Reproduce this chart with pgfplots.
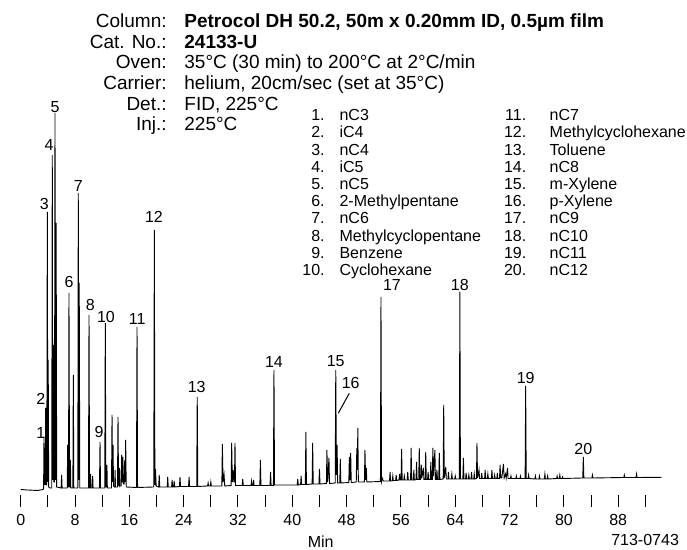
\documentclass[border=0pt]{standalone}
\usepackage{pgfplots}
\pgfplotsset{compat=1.18}
\usepackage{pgfplotstable}
\usepackage{fontspec}
\setmainfont{Liberation Sans}

\pgfplotstableread{
t v
0 0.5
1 0
2.5 -0.5
3.3 0.5
3.37 2
3.43 53
3.49 5
3.55 30
3.61 5
3.68 82
3.76 5
3.84 5
3.92 278
3.99 8
4.05 130
4.12 3
4.3 2
4.57 2
4.65 335
4.72 10
4.80 145
4.88 8
4.97 8
5.05 377
5.13 10
5.22 267
5.30 3
5.95 2
6.03 15
6.1 2
6.85 2
6.92 45
6.99 3
7.04 3
7.11 197
7.19 3
7.26 3
7.32 30
7.38 2
7.68 2
7.75 115
7.82 2
8.41 2
8.48 297
8.55 10
8.62 207
8.70 2
9.98 2
10.06 175
10.14 2
10.24 2
10.3 16
10.36 2
10.55 2
10.6 14
10.66 2
11.60 2
11.68 48
11.76 2
12.38 2
12.46 167
12.54 3
12.64 3
12.7 25
12.76 2
13.37 2
13.45 75
13.53 8
13.6 45
13.67 4
13.85 3
13.9 20
13.96 3
14.25 3
14.33 73
14.41 5
14.50 4
14.55 22
14.62 4
14.80 4
14.87 35
14.94 8
14.99 8
15.05 33
15.12 6
15.25 6
15.32 30
15.39 8
15.46 50
15.54 3
17.05 2.5
17.13 163
17.21 2.5
19.60 3
19.68 260
19.76 5
19.85 21
19.95 4
20.32 3
20.4 15
20.48 3
21.57 3
21.65 13
21.73 3
22.22 3
22.3 10
22.38 3
22.52 3
22.6 9
22.68 3
23.38 3.5
23.46 13
23.54 3.5
24.72 3.5
24.8 13
24.88 3.5
25.92 3.5
26.0 93
26.08 3.5
27.52 4
27.6 7
27.68 4
27.92 4
28.0 8
28.08 4
29.62 4
29.7 46
29.8 8
29.95 15
30.05 4
30.99 4.5
31.07 47
31.17 8
31.3 20
31.4 8
31.48 8
31.56 47
31.64 4.5
32.62 4.5
32.7 11
32.78 4.5
33.92 4.5
34.0 9
34.08 4.5
34.22 4.5
34.3 10
34.38 4.5
35.22 4.5
35.3 30
35.38 4.5
36.72 4.5
36.8 18
36.88 4.5
37.22 4.5
37.3 120
37.38 5
40.72 5
40.8 11
40.88 5
41.22 5.5
41.3 14
41.38 5.5
41.92 5.5
42.0 58
42.08 5.5
42.92 6
43.0 47
43.08 6
43.92 6
44.0 21
44.08 6
45.02 6.5
45.1 40
45.2 8
45.4 32
45.48 6.5
46.32 7
46.4 120
46.5 15
46.6 45
46.68 7
46.99 7
47.07 31
47.15 7
48.32 7.5
48.4 33
48.5 10
48.6 37
48.68 7.5
49.42 8
49.5 42
49.57 20
49.65 62
49.73 8
50.62 8
50.7 40
50.8 10
50.9 22
50.98 8
52.98 8.5
53.06 193
53.14 8.5
53.25 12
53.4 9
54.32 9
54.4 18
54.48 9
54.72 9
54.8 14
54.88 9.5
55.22 9.5
55.3 15
55.38 9.5
55.72 10
55.8 16
55.88 10
56.02 10
56.1 41
56.18 10
56.42 10
56.5 14
56.58 10
56.92 10
57.0 18
57.08 10
57.42 10
57.5 42
57.58 10
57.82 10
57.9 20
57.98 10
58.22 10.5
58.3 28
58.38 10.5
58.62 10.5
58.7 42
58.78 10.5
58.92 10.5
59.0 25
59.08 12
59.3 22
59.38 10.5
59.57 10.5
59.65 38
59.73 10.5
59.92 10.5
60.0 18
60.08 10.5
60.32 10.5
60.4 28
60.48 10.5
60.62 10.5
60.7 42
60.8 14
61.0 40
61.08 10.5
61.22 10.5
61.3 20
61.38 10.5
61.57 10.5
61.65 37
61.73 10.5
62.22 11
62.3 85
62.38 12
62.6 23
62.68 11
62.92 11
63.0 18
63.08 11
63.42 11
63.5 16
63.58 11
63.92 11
64.0 14
64.08 11
64.6 11
64.68 198
64.76 11
65.12 11
65.2 32
65.28 11
65.52 11
65.6 17
65.68 11
65.92 11
66.0 15
66.08 11
66.32 11
66.4 18
66.48 11
66.72 11
66.8 16
66.88 11
67.12 11.5
67.2 47
67.28 12
67.5 20
67.58 11.5
67.82 11.5
67.9 17
67.98 11.5
68.32 11.5
68.4 20
68.48 11.5
68.72 11.5
68.8 16
68.88 11.5
69.32 11.5
69.4 20
69.48 11.5
69.72 11.5
69.8 15
69.88 11.5
70.12 11.5
70.2 17
70.28 11.5
70.52 11.5
70.6 25
70.7 12
70.85 12
71.1 26
71.2 12
71.4 16
71.5 12
71.7 22
71.78 11.5
72.12 11.5
72.2 14
72.28 11.5
72.92 11.5
73.0 14
73.08 11.5
73.52 11.5
73.6 14
73.68 11.5
74.29 11.5
74.37 104
74.45 11.5
74.72 11.5
74.8 15
74.88 11.5
75.72 11
75.8 14
75.88 11
76.32 11
76.4 14
76.48 11
77.12 11
77.2 16
77.28 11
77.52 11
77.6 14
77.68 11
78.92 11.5
79.0 14
79.08 11.5
79.32 11.5
79.4 15
79.48 11.5
79.72 11.5
79.8 13
79.88 11.5
82.78 12
82.86 33
82.94 12
84.12 12
84.2 15
84.28 12
88.82 12.5
88.9 15
88.98 12.5
90.62 12.5
90.7 16
90.78 12.5
94.4 12.7
}\chrom

\begin{document}
\begin{tikzpicture}
\begin{axis}[
  x=3.395pt, y=0.5pt,
  xmin=-3.05, xmax=98.13, ymin=-17, ymax=490,
  axis line style={draw=none},
  ytick=\empty,
  xtick={0,4,...,92},
  xticklabels={0,,8,,16,,24,,32,,40,,48,,56,,64,,72,,80,,88,},
  xtick pos=left,
  xtick align=inside,
  major tick length=6pt,
  major tick style={black, line width=0.5pt},
  xticklabel style={font=\fontsize{8}{9.6}\selectfont},
  /pgf/number format/assume math mode=true,
  clip=false,
  ]
\path (axis cs:-3.05,-60) rectangle (axis cs:98.13,490);
\addplot[black, line width=0.45pt] table[x=t,y=v]{\chrom};

% header
\begin{scope}[every node/.style={inner sep=0pt, font=\fontsize{9.5}{11}\selectfont}]
\node[anchor=base east] at (axis cs:21.55,462.5) {Column:};
\node[anchor=base east] at (axis cs:21.55,441.8) {Cat. No.:};
\node[anchor=base east] at (axis cs:21.55,421.1) {Oven:};
\node[anchor=base east] at (axis cs:21.55,400.4) {Carrier:};
\node[anchor=base east] at (axis cs:21.55,379.7) {Det.:};
\node[anchor=base east] at (axis cs:21.55,359.0) {Inj.:};
\node[anchor=base west] at (axis cs:24.05,462.5) {\bfseries Petrocol DH 50.2, 50m x 0.20mm ID, 0.5µm film};
\node[anchor=base west] at (axis cs:24.05,441.8) {\bfseries 24133-U};
\node[anchor=base west] at (axis cs:24.05,421.1) {35°C (30 min) to 200°C at 2°C/min};
\node[anchor=base west] at (axis cs:24.05,400.4) {helium, 20cm/sec (set at 35°C)};
\node[anchor=base west] at (axis cs:24.05,379.7) {FID, 225°C};
\node[anchor=base west] at (axis cs:24.05,359.0) {225°C};
\end{scope}

% legend
\begin{scope}[every node/.style={inner sep=0pt, font=\fontsize{8}{9.6}\selectfont}]
\node[anchor=base east] at (axis cs:44.82,369.3) {1.};
\node[anchor=base east] at (axis cs:44.82,352.1) {2.};
\node[anchor=base east] at (axis cs:44.82,334.9) {3.};
\node[anchor=base east] at (axis cs:44.82,317.7) {4.};
\node[anchor=base east] at (axis cs:44.82,300.5) {5.};
\node[anchor=base east] at (axis cs:44.82,283.3) {6.};
\node[anchor=base east] at (axis cs:44.82,266.1) {7.};
\node[anchor=base east] at (axis cs:44.82,248.9) {8.};
\node[anchor=base east] at (axis cs:44.82,231.7) {9.};
\node[anchor=base east] at (axis cs:44.82,214.5) {10.};
\node[anchor=base west] at (axis cs:46.9,369.3) {nC3};
\node[anchor=base west] at (axis cs:46.9,352.1) {iC4};
\node[anchor=base west] at (axis cs:46.9,334.9) {nC4};
\node[anchor=base west] at (axis cs:46.9,317.7) {iC5};
\node[anchor=base west] at (axis cs:46.9,300.5) {nC5};
\node[anchor=base west] at (axis cs:46.9,283.3) {2-Methylpentane};
\node[anchor=base west] at (axis cs:46.9,266.1) {nC6};
\node[anchor=base west] at (axis cs:46.9,248.9) {Methylcyclopentane};
\node[anchor=base west] at (axis cs:46.9,231.7) {Benzene};
\node[anchor=base west] at (axis cs:46.9,214.5) {Cyclohexane};
\node[anchor=base east] at (axis cs:74.52,369.3) {11.};
\node[anchor=base east] at (axis cs:74.52,352.1) {12.};
\node[anchor=base east] at (axis cs:74.52,334.9) {13.};
\node[anchor=base east] at (axis cs:74.52,317.7) {14.};
\node[anchor=base east] at (axis cs:74.52,300.5) {15.};
\node[anchor=base east] at (axis cs:74.52,283.3) {16.};
\node[anchor=base east] at (axis cs:74.52,266.1) {17.};
\node[anchor=base east] at (axis cs:74.52,248.9) {18.};
\node[anchor=base east] at (axis cs:74.52,231.7) {19.};
\node[anchor=base east] at (axis cs:74.52,214.5) {20.};
\node[anchor=base west] at (axis cs:77.85,369.3) {nC7};
\node[anchor=base west] at (axis cs:77.85,352.1) {Methylcyclohexane};
\node[anchor=base west] at (axis cs:77.85,334.9) {Toluene};
\node[anchor=base west] at (axis cs:77.85,317.7) {nC8};
\node[anchor=base west] at (axis cs:77.85,300.5) {m-Xylene};
\node[anchor=base west] at (axis cs:77.85,283.3) {p-Xylene};
\node[anchor=base west] at (axis cs:77.85,266.1) {nC9};
\node[anchor=base west] at (axis cs:77.85,248.9) {nC10};
\node[anchor=base west] at (axis cs:77.85,231.7) {nC11};
\node[anchor=base west] at (axis cs:77.85,214.5) {nC12};
\end{scope}

% peak labels
\begin{scope}[every node/.style={inner sep=0pt, font=\fontsize{8}{9.6}\selectfont}]
\node at (axis cs:2.95,57) {1};
\node at (axis cs:2.95,91) {2};
\node at (axis cs:3.48,286) {3};
\node at (axis cs:4.17,345) {4};
\node at (axis cs:5.05,383.3) {5};
\node at (axis cs:7.11,208.3) {6};
\node at (axis cs:8.48,304) {7};
\node at (axis cs:10.25,185) {8};
\node at (axis cs:11.53,58.3) {9};
\node at (axis cs:12.56,173.3) {10};
\node at (axis cs:17.17,170.7) {11};
\node at (axis cs:19.63,273.3) {12};
\node at (axis cs:25.92,103.3) {13};
\node at (axis cs:37.3,128.3) {14};
\node at (axis cs:46.39,129.3) {15};
\node at (axis cs:48.6,107.3) {16};
\node at (axis cs:54.68,205) {17};
\node at (axis cs:64.68,205) {18};
\node at (axis cs:74.37,111.7) {19};
\node at (axis cs:82.86,40.7) {20};
\node at (axis cs:44.18,-51.7) {Min};
\node[anchor=east] at (axis cs:97.0,-50) {713-0743};
\end{scope}
\draw[black, line width=0.5pt] (axis cs:48.39,96.7) -- (axis cs:46.77,76.7);
\end{axis}
\end{tikzpicture}
\end{document}
